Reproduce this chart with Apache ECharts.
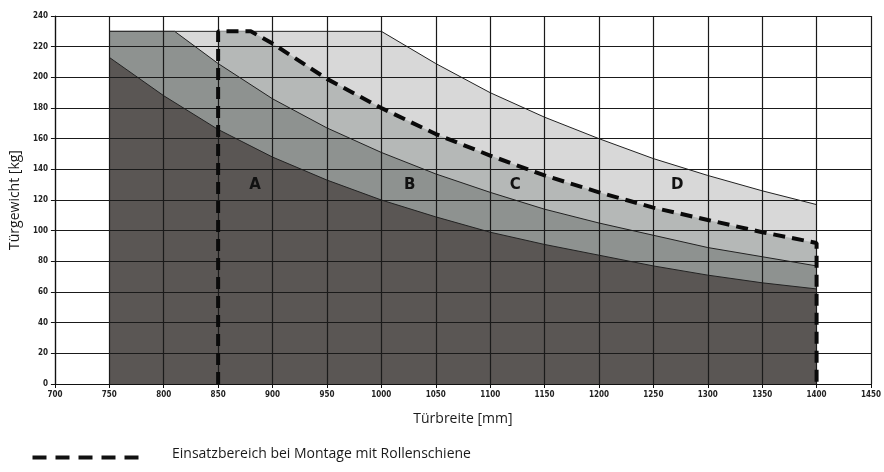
<!DOCTYPE html>
<html>
<head>
<meta charset="utf-8">
<script src="https://cdn.jsdelivr.net/npm/echarts@6/dist/echarts.min.js"></script>
<style>
html,body{margin:0;padding:0;background:#fff;}
#chart{width:884px;height:472px;}
</style>
</head>
<body>
<div id="chart"></div>
<script>
// ---- data ----
const xTicks = [700,750,800,850,900,950,1000,1050,1100,1150,1200,1250,1300,1350,1400,1450];
const yTicks = [0,20,40,60,80,100,120,140,160,180,200,220,240];

// Region A (darkest)
const widthsA  = [750,800,850,900,950,1000,1050,1100,1150,1200,1250,1300,1350,1400];
const weightsA = [213,188,166,148,133,120,109,99,91,84,77,71,66,62];

// Region B
const widthsB  = [750,810,850,900,950,1000,1050,1100,1150,1200,1250,1300,1350,1400];
const weightsB = [230,230,209,186,167,151,137,125,114,105,97,89,83,77];

// Region C (dashed border: Einsatzbereich bei Montage mit Rollenschiene)
const widthsC  = [850,850,880,900,950,1000,1050,1100,1150,1200,1250,1300,1350,1400,1400];
const weightsC = [0,230,230,222,199,180,163,149,136,125,115,107,99,92,0];

// Region D (lightest)
const widthsD  = [750,1000,1050,1100,1150,1200,1250,1300,1350,1400];
const weightsD = [230,230,209,190,174,160,147,136,126,117];

const regionLabels = ['A','B','C','D'];
const regionLabelPos = [[884,130],[1026,130],[1123,130],[1272,130]];
const legendText = 'Einsatzbereich bei Montage mit Rollenschiene';

const pairs = (xs, ys) => xs.map((x,i) => [x, ys[i]]);

const chart = echarts.init(document.getElementById('chart'), null, {renderer:'canvas'});

const gridStyle = {color:'#1a1a1a', width:1.2};
const tickFont = {fontFamily:'DejaVu Sans Condensed', fontWeight:'bold', fontSize:8, color:'#222'};

chart.setOption({
  animation:false,
  backgroundColor:'#ffffff',
  grid:{left:54, right:10, top:16, bottom:88, containLabel:false},
  xAxis:{
    type:'value', min:700, max:1450, interval:50, z:10,
    axisLine:{show:true, lineStyle:{color:'#111', width:1.2}},
    axisTick:{show:true, length:4, lineStyle:{color:'#111'}},
    axisLabel:Object.assign({margin:7, formatter:v=>xTicks.includes(v)?String(v):''}, tickFont),
    splitLine:{show:true, lineStyle:gridStyle},
    name:'Türbreite [mm]', nameLocation:'middle', nameGap:28,
    nameTextStyle:{fontFamily:'Open Sans', fontSize:14, color:'#1a1a1a'}
  },
  yAxis:{
    type:'value', min:0, max:240, interval:20, z:10,
    axisLine:{show:true, lineStyle:{color:'#111', width:1.2}},
    axisTick:{show:true, inside:false, length:4, lineStyle:{color:'#111'}},
    axisLabel:Object.assign({margin:7, formatter:v=>yTicks.includes(v)?String(v):''}, tickFont),
    splitLine:{show:true, lineStyle:gridStyle},
    name:'Türgewicht [kg]', nameLocation:'middle', nameGap:28,
    nameTextStyle:{fontFamily:'Open Sans', fontSize:14, color:'#1a1a1a'}
  },
  series:[
    {
      name:'D', type:'line', z:1, symbol:'none', silent:true,
      data:pairs(widthsD, weightsD),
      lineStyle:{color:'#222', width:1},
      areaStyle:{color:'#d8d8d8', opacity:1}
    },
    {
      name:'C', type:'line', z:2, symbol:'none', silent:true,
      data:pairs(widthsC, weightsC),
      lineStyle:{width:0},
      areaStyle:{color:'#b5b8b7', opacity:1}
    },
    {
      name:'B', type:'line', z:3, symbol:'none', silent:true,
      data:pairs(widthsB, weightsB),
      lineStyle:{color:'#222', width:1},
      areaStyle:{color:'#8e9290', opacity:1}
    },
    {
      name:'A', type:'line', z:4, symbol:'none', silent:true,
      data:pairs(widthsA, weightsA),
      lineStyle:{color:'#222', width:1},
      areaStyle:{color:'#5a5654', opacity:1},
      markPoint:{
        symbol:'circle', symbolSize:1, itemStyle:{color:'transparent'},
        label:{show:true, position:'inside', fontFamily:'DejaVu Sans', fontWeight:'bold', fontSize:15, color:'#111', formatter:p=>p.name},
        data:regionLabels.map((n,i)=>({name:n, coord:regionLabelPos[i]}))
      }
    },
    {
      name:legendText, type:'line', z:20, symbol:'none', silent:true,
      data:pairs(widthsC, weightsC),
      lineStyle:{color:'#0a0a0a', width:4, type:[12,7]}
    }
  ],
  graphic:[
    {type:'line', left:30, top:455, shape:{x1:0,y1:0,x2:112,y2:0},
     style:{stroke:'#111', lineWidth:4, lineDash:[14,9]}},
    {type:'text', left:172, top:447,
     style:{text:legendText, fontFamily:'Open Sans', fontSize:14, fill:'#1a1a1a'}}
  ]
});
</script>
</body>
</html>
